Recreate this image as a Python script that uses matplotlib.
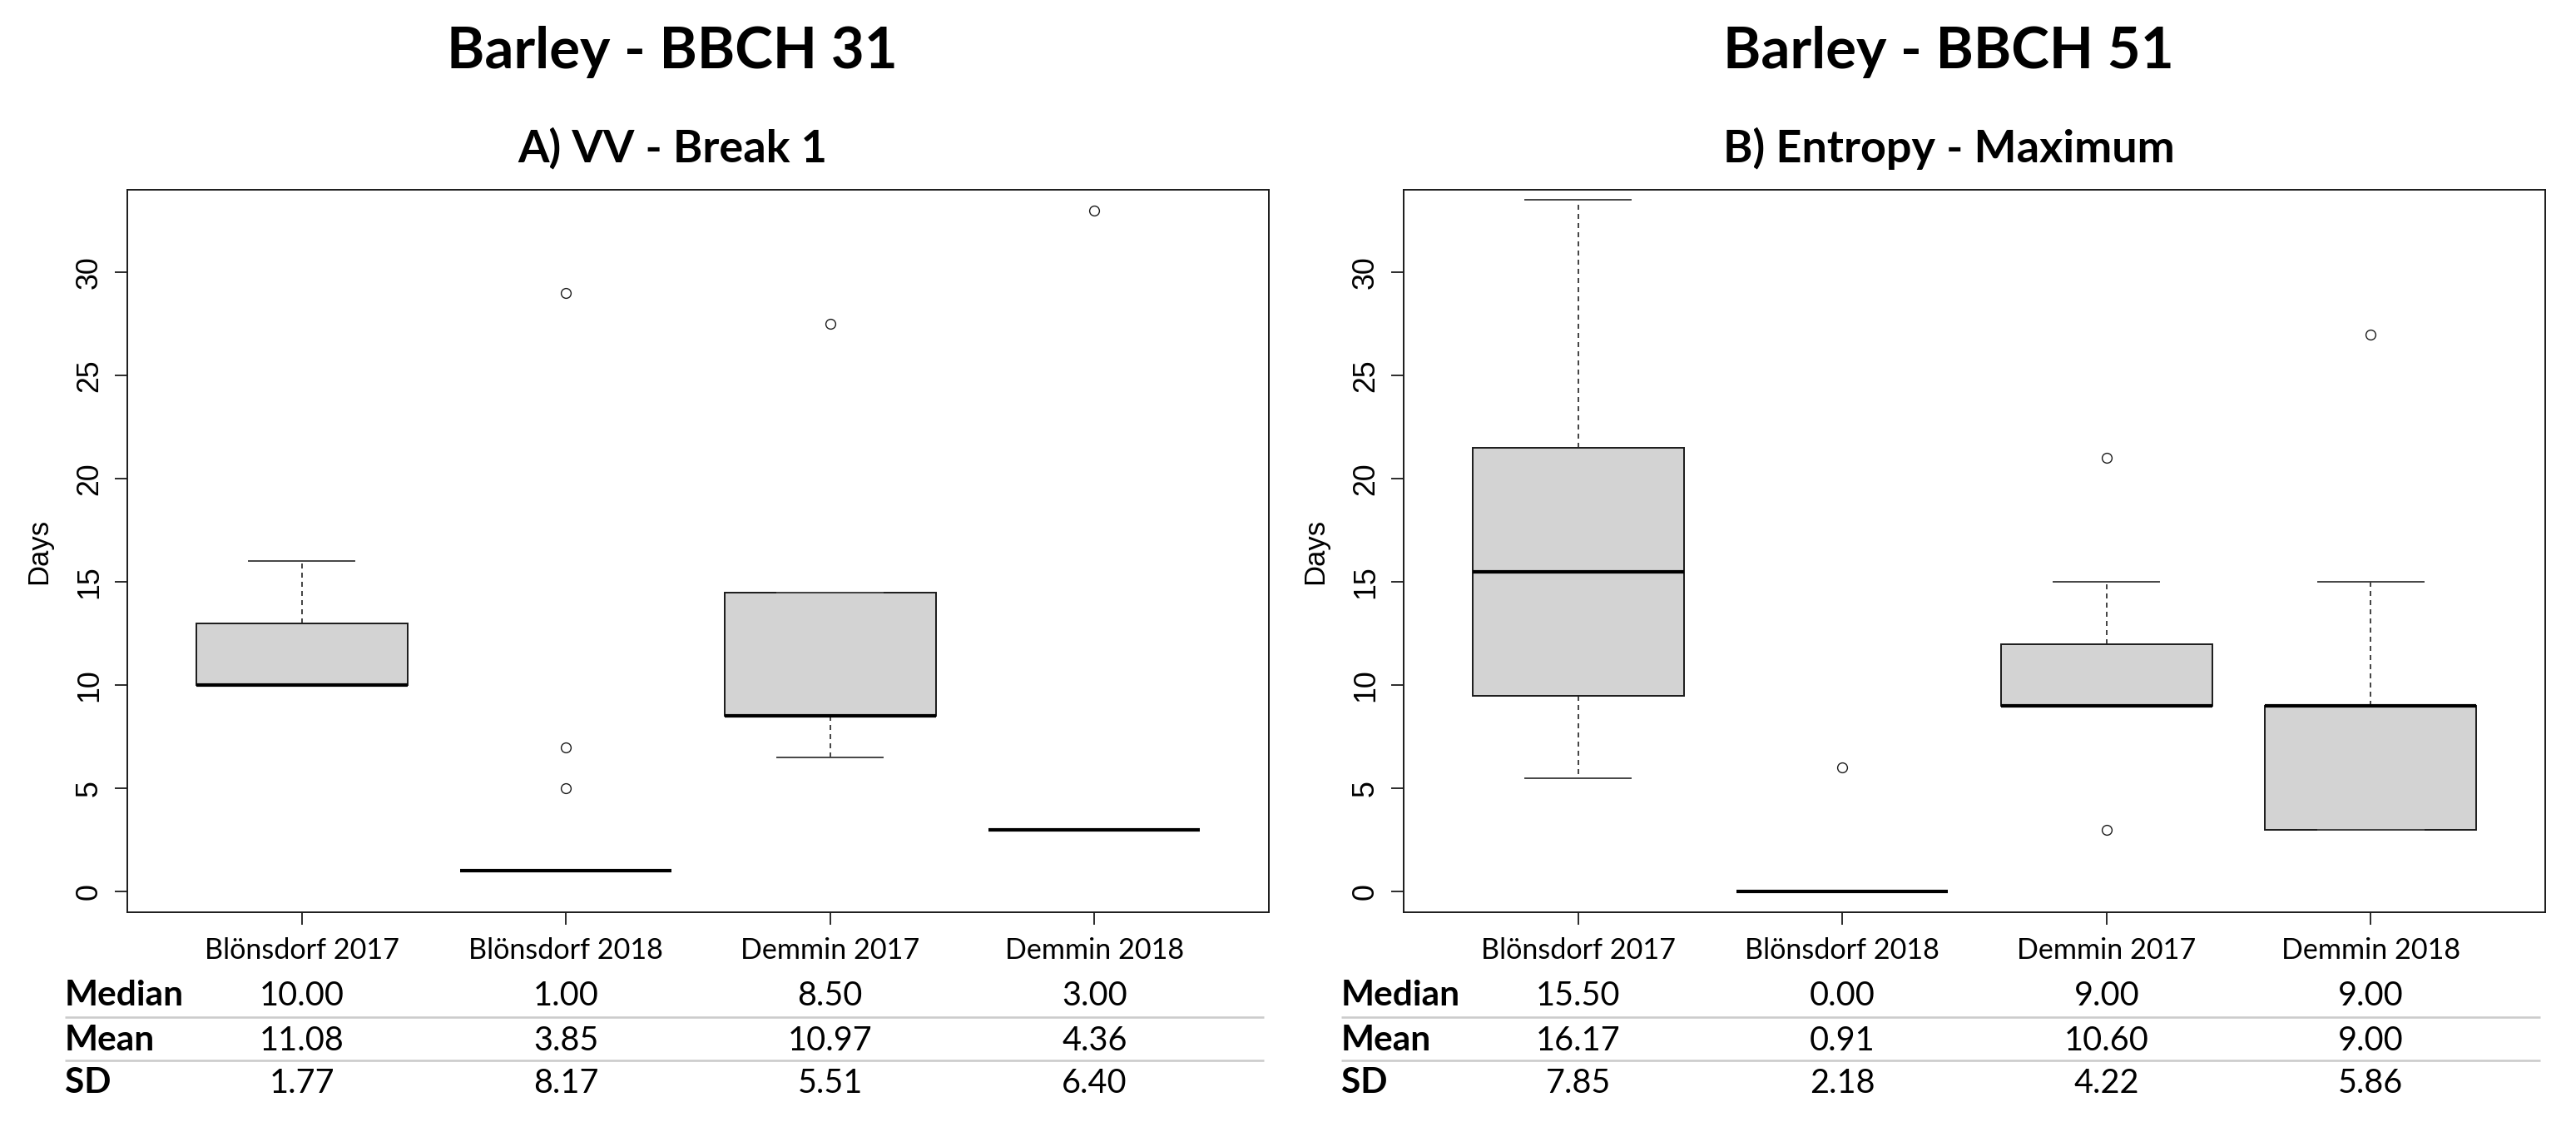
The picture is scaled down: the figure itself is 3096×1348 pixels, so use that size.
import matplotlib
matplotlib.use("Agg")
import matplotlib.pyplot as plt
from matplotlib.transforms import blended_transform_factory
from matplotlib.textpath import TextPath
from matplotlib.font_manager import FontProperties

# ---------------- data ----------------
categories = ["Blönsdorf 2017", "Blönsdorf 2018", "Demmin 2017", "Demmin 2018"]
main_titles = ["Barley - BBCH 31", "Barley - BBCH 51"]
sub_titles = ["A) VV - Break 1", "B) Entropy - Maximum"]
y_label = "Days"
y_ticks = [0, 5, 10, 15, 20, 25, 30]
row_labels = ["Median", "Mean", "SD"]

# panel A (box statistics)
a_q1 = [10.0, 1.0, 8.5, 3.0]
a_med = [10.0, 1.0, 8.5, 3.0]
a_q3 = [13.0, 1.0, 14.5, 3.0]
a_whislo = [10.0, 1.0, 6.5, 3.0]
a_whishi = [16.0, 1.0, 14.5, 3.0]
a_fliers = [[], [29.0, 7.0, 5.0], [27.5], [33.0]]
a_median = [10.00, 1.00, 8.50, 3.00]
a_mean = [11.08, 3.85, 10.97, 4.36]
a_sd = [1.77, 8.17, 5.51, 6.40]

# panel B
b_q1 = [9.5, 0.0, 9.0, 3.0]
b_med = [15.5, 0.0, 9.0, 9.0]
b_q3 = [21.5, 0.0, 12.0, 9.0]
b_whislo = [5.5, 0.0, 9.0, 3.0]
b_whishi = [33.5, 0.0, 15.0, 15.0]
b_fliers = [[], [6.0], [21.0, 3.0], [27.0]]
b_median = [15.50, 0.00, 9.00, 9.00]
b_mean = [16.17, 0.91, 10.60, 9.00]
b_sd = [7.85, 2.18, 4.22, 5.86]

# ---------------- layout ----------------
W, H, DPI = 3096, 1348, 100
fig = plt.figure(figsize=(W / DPI, H / DPI), dpi=DPI)
fig.patch.set_facecolor("white")

TITLE_FONT = ["Lato", "DejaVu Sans"]
ARIAL = ["Liberation Sans", "DejaVu Sans"]


def fit_size(s, family, weight, target_px):
    fp = FontProperties(family=family, weight=weight)
    w = TextPath((0, 0), s, size=100, prop=fp).get_extents().width
    return 100.0 * target_px * 72.0 / (w * DPI)


size_title = fit_size(main_titles[0], TITLE_FONT, "bold", 533)
size_sub = 0.5 * (fit_size(sub_titles[0], TITLE_FONT, "bold", 362)
                  + fit_size(sub_titles[1], TITLE_FONT, "bold", 547))
size_xlab = fit_size(categories[0], TITLE_FONT, "normal", 230)
size_row = fit_size(row_labels[0], TITLE_FONT, "bold", 137)
size_val = fit_size("10.00", TITLE_FONT, "normal", 97)
size_ytick = fit_size("30", ARIAL, "normal", 37)

ax_left_px = [153, 1687]
ax_top_px, ax_bot_px, ax_w_px = 228, 1096, 1372

panels = [
    (a_q1, a_med, a_q3, a_whislo, a_whishi, a_fliers, a_median, a_mean, a_sd),
    (b_q1, b_med, b_q3, b_whislo, b_whishi, b_fliers, b_median, b_mean, b_sd),
]

positions = [1, 2, 3, 4]
EDGE = "#1a1a1a"

for i, (q1, med, q3, wlo, whi, fl, tmed, tmean, tsd) in enumerate(panels):
    ax = fig.add_axes([ax_left_px[i] / W, 1 - ax_bot_px / H,
                       ax_w_px / W, (ax_bot_px - ax_top_px) / H])
    stats = []
    for k in range(len(categories)):
        stats.append(dict(med=med[k], q1=q1[k], q3=q3[k], whislo=wlo[k],
                          whishi=whi[k], fliers=fl[k], label=categories[k]))
    ax.bxp(stats, positions=positions, widths=0.8, capwidths=0.4,
           patch_artist=True, showfliers=True,
           boxprops=dict(facecolor="#D3D3D3", edgecolor=EDGE, linewidth=1.4),
           medianprops=dict(color="black", linewidth=3.0, solid_capstyle="butt"),
           whiskerprops=dict(color="#222222", linewidth=1.2,
                             linestyle=(0, (3.6, 3.0))),
           capprops=dict(color="#444444", linewidth=1.4),
           flierprops=dict(marker="o", markerfacecolor="none",
                           markeredgecolor=EDGE, markersize=8.5,
                           markeredgewidth=1.0))
    ax.set_xlim(0.34, 4.66)
    ax.set_ylim(-1.0, 34.0)
    ax.set_xticks(positions)
    ax.set_xticklabels([])
    ax.set_yticks(y_ticks)
    ax.set_yticklabels([])
    ax.tick_params(axis="both", direction="out", length=10.8, width=1.3,
                   color=EDGE)
    for sp in ax.spines.values():
        sp.set_linewidth(1.4)
        sp.set_color(EDGE)

    # y tick labels (rotated, R style)
    ytr = ax.get_yaxis_transform()
    for v in y_ticks:
        ax.text((117 - 153) / ax_w_px, v, str(v), transform=ytr, rotation=90,
                rotation_mode="anchor", ha="center", va="baseline",
                fontsize=size_ytick, family=ARIAL, clip_on=False)
    ax.text((56 - 153) / ax_w_px, 0.5, y_label, transform=ax.transAxes,
            rotation=90, rotation_mode="anchor", ha="center", va="baseline",
            fontsize=size_ytick * 0.97, family=ARIAL, clip_on=False)

    # x category labels
    xtr = blended_transform_factory(ax.transData, fig.transFigure)
    for p, c in zip(positions, categories):
        ax.text(p, 1 - 1152 / H, c, transform=xtr, ha="center",
                va="baseline", fontsize=size_xlab, family=TITLE_FONT,
                clip_on=False)

    # titles
    cx = (ax_left_px[i] + ax_w_px / 2 - 31) / W
    fig.text(cx, 1 - 82 / H, main_titles[i], ha="center", va="baseline",
             fontsize=size_title, weight="bold", family=TITLE_FONT)
    fig.text(cx, 1 - 195 / H, sub_titles[i], ha="center", va="baseline",
             fontsize=size_sub, weight="bold", family=TITLE_FONT)

    # statistics table
    atr = blended_transform_factory(ax.transAxes, fig.transFigure)
    row_base = [1208, 1262, 1313]
    rows = [tmed, tmean, tsd]
    lab_x = -75 / ax_w_px
    for r, (lab, vals, yb) in enumerate(zip(row_labels, rows, row_base)):
        ax.text(lab_x, 1 - yb / H, lab, transform=atr, ha="left",
                va="baseline", fontsize=size_row, weight="bold",
                family=TITLE_FONT, clip_on=False)
        for p, v in zip(positions, vals):
            ax.text(p, 1 - yb / H, f"{v:.2f}", transform=xtr, ha="center",
                    va="baseline", fontsize=size_val, family=TITLE_FONT,
                    clip_on=False)
    for yl in [1222, 1274]:
        ax.plot([lab_x, 1 - 6 / ax_w_px], [1 - yl / H, 1 - yl / H],
                transform=atr, color="#CCCCCC", linewidth=1.9, clip_on=False,
                solid_capstyle="butt")
    ax.set_xlim(0.34, 4.66)
    ax.set_ylim(-1.0, 34.0)

fig.savefig("out.png", dpi=DPI, facecolor="white")
